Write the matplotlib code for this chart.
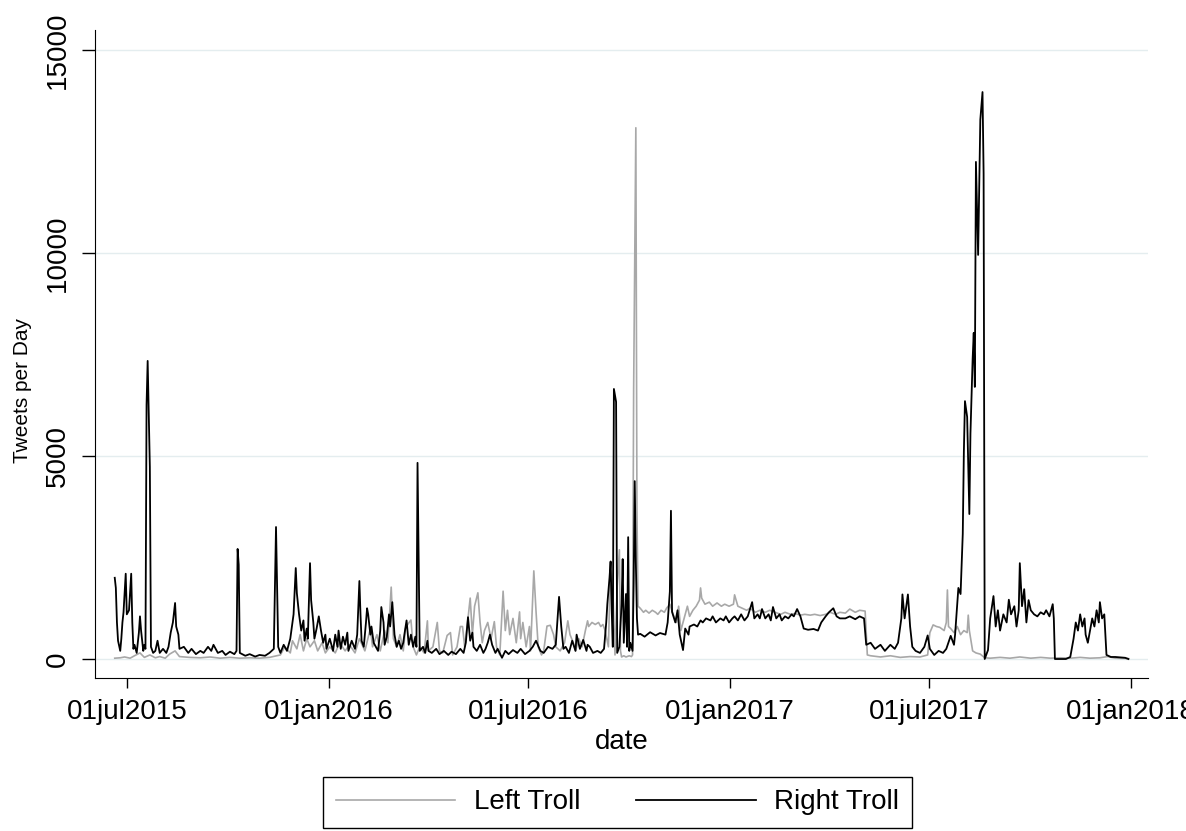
import matplotlib.pyplot as plt
import pandas as pd

# Right Troll, tweets per day
right_dates = [
    "2015-06-20", "2015-06-21", "2015-06-22", "2015-06-23", "2015-06-25", "2015-06-26", "2015-06-27", "2015-06-28", "2015-06-30",
    "2015-07-01", "2015-07-03", "2015-07-05", "2015-07-06", "2015-07-07", "2015-07-08", "2015-07-10", "2015-07-12", "2015-07-13",
    "2015-07-14", "2015-07-16", "2015-07-17", "2015-07-18", "2015-07-19", "2015-07-20", "2015-07-22", "2015-07-23", "2015-07-25",
    "2015-07-27", "2015-07-29", "2015-07-31",
    "2015-08-03", "2015-08-06", "2015-08-08", "2015-08-10", "2015-08-12", "2015-08-14", "2015-08-15", "2015-08-17", "2015-08-18",
    "2015-08-22", "2015-08-26", "2015-08-29",
    "2015-09-02", "2015-09-06", "2015-09-09", "2015-09-13", "2015-09-16", "2015-09-18", "2015-09-22", "2015-09-26", "2015-09-29",
    "2015-10-03", "2015-10-07", "2015-10-09", "2015-10-10", "2015-10-11", "2015-10-12", "2015-10-17", "2015-10-21", "2015-10-26",
    "2015-10-30",
    "2015-11-04", "2015-11-08", "2015-11-12", "2015-11-14", "2015-11-15", "2015-11-16", "2015-11-18", "2015-11-21", "2015-11-24",
    "2015-11-27", "2015-11-28", "2015-11-30",
    "2015-12-02", "2015-12-03", "2015-12-05", "2015-12-07", "2015-12-09", "2015-12-10", "2015-12-12", "2015-12-13", "2015-12-15",
    "2015-12-16", "2015-12-18", "2015-12-19", "2015-12-21", "2015-12-23", "2015-12-25", "2015-12-27", "2015-12-29", "2015-12-30",
    "2016-01-02", "2016-01-05", "2016-01-07", "2016-01-09", "2016-01-10", "2016-01-12", "2016-01-14", "2016-01-16", "2016-01-18",
    "2016-01-19", "2016-01-22", "2016-01-25", "2016-01-27", "2016-01-29", "2016-01-30", "2016-01-31",
    "2016-02-02", "2016-02-04", "2016-02-05", "2016-02-06", "2016-02-08", "2016-02-09", "2016-02-11", "2016-02-13", "2016-02-15",
    "2016-02-17", "2016-02-18", "2016-02-20", "2016-02-21", "2016-02-23", "2016-02-25", "2016-02-26", "2016-02-28", "2016-02-29",
    "2016-03-01", "2016-03-03", "2016-03-05", "2016-03-07", "2016-03-09", "2016-03-10", "2016-03-12", "2016-03-14", "2016-03-16",
    "2016-03-18", "2016-03-20", "2016-03-21", "2016-03-22", "2016-03-23", "2016-03-24", "2016-03-27", "2016-03-29", "2016-03-31",
    "2016-04-01", "2016-04-04", "2016-04-08", "2016-04-11", "2016-04-15", "2016-04-19", "2016-04-22", "2016-04-26", "2016-04-30",
    "2016-05-03", "2016-05-05", "2016-05-07", "2016-05-09", "2016-05-11", "2016-05-12", "2016-05-15", "2016-05-18", "2016-05-21",
    "2016-05-23", "2016-05-25", "2016-05-27", "2016-05-29",
    "2016-06-01", "2016-06-03", "2016-06-07", "2016-06-10", "2016-06-13", "2016-06-17", "2016-06-21", "2016-06-24", "2016-06-28",
    "2016-07-02", "2016-07-05", "2016-07-08", "2016-07-12", "2016-07-15", "2016-07-19", "2016-07-23", "2016-07-26", "2016-07-29",
    "2016-07-31",
    "2016-08-02", "2016-08-04", "2016-08-07", "2016-08-10", "2016-08-13", "2016-08-14", "2016-08-17", "2016-08-20", "2016-08-23",
    "2016-08-24", "2016-08-26", "2016-08-29",
    "2016-09-02", "2016-09-05", "2016-09-08", "2016-09-10", "2016-09-11", "2016-09-13", "2016-09-14", "2016-09-15", "2016-09-16",
    "2016-09-17", "2016-09-19", "2016-09-20", "2016-09-22", "2016-09-24", "2016-09-25", "2016-09-26", "2016-09-28", "2016-09-29",
    "2016-09-30",
    "2016-10-01", "2016-10-02", "2016-10-04", "2016-10-05", "2016-10-06", "2016-10-07", "2016-10-08", "2016-10-09", "2016-10-11",
    "2016-10-15", "2016-10-20", "2016-10-25", "2016-10-29",
    "2016-11-03", "2016-11-05", "2016-11-07", "2016-11-08", "2016-11-09", "2016-11-12", "2016-11-14", "2016-11-16", "2016-11-19",
    "2016-11-21", "2016-11-24", "2016-11-25", "2016-11-29",
    "2016-12-02", "2016-12-05", "2016-12-07", "2016-12-10", "2016-12-14", "2016-12-16", "2016-12-19", "2016-12-23", "2016-12-26",
    "2016-12-28", "2016-12-31",
    "2017-01-03", "2017-01-05", "2017-01-08", "2017-01-11", "2017-01-14", "2017-01-17", "2017-01-21", "2017-01-23", "2017-01-26",
    "2017-01-28", "2017-01-30",
    "2017-02-02", "2017-02-05", "2017-02-07", "2017-02-09", "2017-02-12", "2017-02-15", "2017-02-17", "2017-02-20", "2017-02-23",
    "2017-02-26", "2017-02-28",
    "2017-03-03", "2017-03-06", "2017-03-09", "2017-03-13", "2017-03-18", "2017-03-22", "2017-03-25", "2017-03-29",
    "2017-04-01", "2017-04-05", "2017-04-08", "2017-04-11", "2017-04-16", "2017-04-20", "2017-04-25", "2017-04-29",
    "2017-05-03", "2017-05-05", "2017-05-09", "2017-05-13", "2017-05-18", "2017-05-22", "2017-05-27", "2017-05-31",
    "2017-06-03", "2017-06-06", "2017-06-07", "2017-06-09", "2017-06-12", "2017-06-14", "2017-06-16", "2017-06-19", "2017-06-23",
    "2017-06-27", "2017-06-30",
    "2017-07-02", "2017-07-06", "2017-07-10", "2017-07-14", "2017-07-17", "2017-07-21", "2017-07-24", "2017-07-25", "2017-07-28",
    "2017-07-30",
    "2017-08-01", "2017-08-02", "2017-08-03", "2017-08-05", "2017-08-07", "2017-08-08", "2017-08-10", "2017-08-11", "2017-08-12",
    "2017-08-13", "2017-08-15", "2017-08-17", "2017-08-19", "2017-08-20", "2017-08-21", "2017-08-24", "2017-08-26", "2017-08-29",
    "2017-08-31",
    "2017-09-02", "2017-09-04", "2017-09-07", "2017-09-10", "2017-09-12", "2017-09-14", "2017-09-17", "2017-09-19", "2017-09-21",
    "2017-09-22", "2017-09-24", "2017-09-26", "2017-09-28", "2017-09-30",
    "2017-10-02", "2017-10-05", "2017-10-08", "2017-10-11", "2017-10-14", "2017-10-16", "2017-10-19", "2017-10-22", "2017-10-23",
    "2017-10-24", "2017-10-29",
    "2017-11-03", "2017-11-07", "2017-11-10", "2017-11-12", "2017-11-14", "2017-11-16", "2017-11-18", "2017-11-20", "2017-11-21",
    "2017-11-23", "2017-11-25", "2017-11-27", "2017-11-29",
    "2017-12-01", "2017-12-03", "2017-12-04", "2017-12-06", "2017-12-08", "2017-12-10", "2017-12-14", "2017-12-18", "2017-12-23",
    "2017-12-27", "2017-12-30",
]
right_tweets = [
    2000, 1750, 900, 450, 200, 500, 900, 1150, 2100,
    1100, 1200, 2100, 900, 250, 350, 150, 650, 1050,
    700, 200, 350, 250, 6260, 7340, 4730, 300, 150,
    200, 450, 150,
    250, 150, 300, 650, 900, 1380, 800, 600, 250,
    300, 150, 250,
    120, 200, 150, 300, 200, 350, 150, 200, 100,
    180, 120, 200, 2710, 2320, 150, 80, 120, 60,
    100,
    80, 150, 250, 3250, 1820, 300, 150, 350, 200,
    500, 700, 1100,
    2240, 1620, 1100, 700, 950, 450, 750, 500, 2360,
    1450, 900, 500, 750, 1050, 700, 400, 600, 250,
    500, 200, 600, 300, 700, 250, 550, 350, 650,
    200, 450, 250, 600, 1920, 1100, 450,
    300, 900, 1250, 1100, 600, 800, 400, 300, 200,
    700, 1280, 900, 350, 550, 1100, 800, 1400, 1000,
    600, 300, 450, 250, 400, 600, 950, 350, 600,
    300, 550, 300, 4830, 2610, 200, 300, 150, 450,
    200, 150, 250, 120, 200, 100, 180, 120, 250,
    150, 400, 1030, 450, 650, 300, 200, 350, 150,
    250, 400, 600, 350,
    150, 250, 30, 200, 120, 220, 150, 250, 120,
    200, 300, 450, 200, 150, 300, 250, 350, 1530,
    800,
    250, 300, 150, 450, 200, 600, 250, 470, 200,
    350, 300, 150,
    200, 150, 250, 900, 1350, 2000, 2400, 1200, 300,
    6650, 6330, 150, 300, 1350, 2460, 400, 1600, 300,
    3000,
    200, 400, 200, 1850, 4380, 2370, 1000, 600, 620,
    550, 660, 580, 640,
    600, 900, 1660, 3650, 1160, 900, 1200, 600, 220,
    750, 600, 800, 850,
    800, 950, 900, 1000, 950, 1050, 900, 1000, 950,
    1050, 900,
    1000, 1050, 950, 1100, 950, 1050, 1400, 1000, 1100,
    1000, 1230,
    1000, 1100, 950, 1280, 1000, 1100, 950, 1050, 1000,
    1100, 1050,
    1230, 1050, 750, 720, 740, 700, 900, 1050,
    1150, 1250, 1050, 1000, 1000, 1050, 980, 1050,
    1000, 350, 400, 250, 350, 200, 350, 250,
    400, 1000, 1590, 1000, 1590, 800, 300, 200, 150,
    300, 580,
    250, 100, 200, 150, 250, 570, 350, 600, 1750,
    1600,
    3080, 5100, 6350, 5960, 3570, 5550, 7390, 8030, 6700,
    12240, 9950, 13280, 13960, 11950, 0, 220, 1000, 1550,
    800,
    1200, 700, 1100, 900, 1460, 1100, 1300, 800, 1200,
    2360, 1300, 1720, 900, 1450,
    1200, 1100, 1050, 1150, 1100, 1200, 1050, 1350, 1000,
    0, 0,
    0, 50, 500, 900, 700, 1100, 800, 1000, 600,
    400, 700, 1000, 800,
    1200, 900, 1400, 1000, 1100, 100, 50, 50, 40,
    30, 0,
]

# Left Troll, tweets per day
left_dates = [
    "2015-06-20", "2015-06-25", "2015-06-29", "2015-07-04", "2015-07-08", "2015-07-13", "2015-07-17", "2015-07-22", "2015-07-27",
    "2015-07-31", "2015-08-05", "2015-08-09", "2015-08-14", "2015-08-18", "2015-08-27", "2015-09-06", "2015-09-15", "2015-09-24",
    "2015-10-03", "2015-10-12", "2015-10-21", "2015-10-30", "2015-11-08", "2015-11-18", "2015-11-22", "2015-11-27", "2015-11-29",
    "2015-12-03", "2015-12-06", "2015-12-09", "2015-12-12", "2015-12-15", "2015-12-19", "2015-12-22", "2015-12-26", "2015-12-29",
    "2016-01-02", "2016-01-07", "2016-01-11", "2016-01-16", "2016-01-20", "2016-01-25", "2016-01-29",
    "2016-02-03", "2016-02-08", "2016-02-10", "2016-02-14", "2016-02-17", "2016-02-21", "2016-02-24", "2016-02-27", "2016-02-29",
    "2016-03-03", "2016-03-06", "2016-03-09", "2016-03-11", "2016-03-13", "2016-03-16", "2016-03-18", "2016-03-21", "2016-03-24",
    "2016-03-28", "2016-03-31",
    "2016-04-01", "2016-04-05", "2016-04-09", "2016-04-11", "2016-04-14", "2016-04-18", "2016-04-21", "2016-04-23", "2016-04-27",
    "2016-04-30",
    "2016-05-02", "2016-05-04", "2016-05-07", "2016-05-09", "2016-05-11", "2016-05-13", "2016-05-16", "2016-05-18", "2016-05-20",
    "2016-05-22", "2016-05-25", "2016-05-28", "2016-05-31",
    "2016-06-02", "2016-06-05", "2016-06-08", "2016-06-10", "2016-06-12", "2016-06-14", "2016-06-17", "2016-06-20", "2016-06-23",
    "2016-06-24", "2016-06-26", "2016-06-29",
    "2016-07-02", "2016-07-03", "2016-07-06", "2016-07-08", "2016-07-10", "2016-07-13", "2016-07-15", "2016-07-18", "2016-07-21",
    "2016-07-24", "2016-07-26", "2016-07-30",
    "2016-08-03", "2016-08-06", "2016-08-08", "2016-08-11", "2016-08-13", "2016-08-16", "2016-08-19", "2016-08-22", "2016-08-24",
    "2016-08-25", "2016-08-28", "2016-08-31",
    "2016-09-03", "2016-09-05", "2016-09-07", "2016-09-09", "2016-09-12", "2016-09-14", "2016-09-16", "2016-09-18", "2016-09-20",
    "2016-09-22", "2016-09-23", "2016-09-24", "2016-09-26", "2016-09-28",
    "2016-10-01", "2016-10-03", "2016-10-04", "2016-10-05", "2016-10-07", "2016-10-08", "2016-10-09", "2016-10-11", "2016-10-14",
    "2016-10-16", "2016-10-19", "2016-10-22", "2016-10-25", "2016-10-27", "2016-10-30",
    "2016-11-02", "2016-11-04", "2016-11-07", "2016-11-10", "2016-11-13", "2016-11-15", "2016-11-17", "2016-11-20", "2016-11-23",
    "2016-11-25", "2016-11-28",
    "2016-12-01", "2016-12-04", "2016-12-05", "2016-12-06", "2016-12-09", "2016-12-13", "2016-12-16", "2016-12-20", "2016-12-24",
    "2016-12-27", "2016-12-31",
    "2017-01-04", "2017-01-05", "2017-01-08", "2017-01-12", "2017-01-16", "2017-01-19", "2017-01-24", "2017-01-28",
    "2017-02-02", "2017-02-06", "2017-02-11", "2017-02-16", "2017-02-20", "2017-02-25",
    "2017-03-01", "2017-03-06", "2017-03-10", "2017-03-15", "2017-03-19", "2017-03-24", "2017-03-29",
    "2017-04-02", "2017-04-07", "2017-04-11", "2017-04-16", "2017-04-20", "2017-04-25", "2017-04-29",
    "2017-05-04", "2017-05-06", "2017-05-09", "2017-05-18", "2017-05-27",
    "2017-06-05", "2017-06-14", "2017-06-23", "2017-06-30",
    "2017-07-02", "2017-07-05", "2017-07-08", "2017-07-11", "2017-07-15", "2017-07-17", "2017-07-18", "2017-07-19", "2017-07-21",
    "2017-07-24", "2017-07-27", "2017-07-30",
    "2017-08-02", "2017-08-05", "2017-08-06", "2017-08-07", "2017-08-10", "2017-08-13", "2017-08-17", "2017-08-21", "2017-08-26",
    "2017-09-04", "2017-09-13", "2017-09-22", "2017-10-02", "2017-10-11", "2017-10-20", "2017-10-29", "2017-11-07", "2017-11-16",
    "2017-11-25", "2017-12-04", "2017-12-11", "2017-12-18", "2017-12-30",
]
left_tweets = [
    20, 30, 50, 20, 80, 150, 40, 100, 30,
    60, 20, 120, 200, 60, 40, 30, 50, 20,
    40, 20, 30, 20, 40, 100, 300, 150, 450,
    250, 600, 200, 500, 300, 450, 200, 400, 150,
    300, 150, 400, 200, 350, 150, 500,
    200, 750, 300, 600, 200, 700, 400, 1770, 500,
    300, 600, 200, 750, 850, 960, 300, 100, 300,
    150, 940,
    200, 300, 900, 200, 150, 580, 650, 100, 300,
    800,
    800, 300, 1000, 1500, 600, 1300, 1630, 900, 400,
    700, 900, 500, 920,
    300, 100, 1670, 700, 1200, 600, 1000, 400, 1160,
    500, 900, 300,
    800, 200, 2170, 1180, 300, 100, 200, 810, 830,
    600, 300, 200,
    400, 940, 600, 400, 200, 500, 300, 700, 940,
    800, 900, 850,
    900, 800, 850, 700, 300, 2400, 1700, 100, 1800,
    2690, 200, 50, 80, 50,
    80, 60, 100, 6650, 13080, 3650, 1300, 1250, 1150,
    1200, 1130, 1200, 1150, 1100, 1200,
    1150, 1250, 1350, 1100, 900, 1300, 700, 1000, 1300,
    1050, 1200,
    1300, 1450, 1750, 1500, 1350, 1400, 1300, 1380, 1300,
    1350, 1300,
    1350, 1580, 1300, 1250, 1200, 1250, 1150, 1200,
    1150, 1200, 1150, 1100, 1150, 1100,
    1120, 1080, 1100, 1080, 1100, 1070, 1100,
    1150, 1100, 1150, 1130, 1230, 1150, 1200,
    1180, 100, 80, 50, 80,
    40, 60, 50, 100,
    650, 840, 800, 780, 700, 900, 1700, 800, 750,
    650, 800, 600,
    700, 650, 1080, 700, 200, 150, 120, 30, 20,
    40, 20, 50, 20, 40, 20, 30, 20, 40,
    20, 30, 60, 20, 10,
]

tick_dates = ["2015-07-01", "2016-01-01", "2016-07-01", "2017-01-01", "2017-07-01", "2018-01-01"]
tick_labels = ["01jul2015", "01jan2016", "01jul2016", "01jan2017", "01jul2017", "01jan2018"]

plt.rcParams["font.family"] = ["Liberation Sans", "DejaVu Sans"]

fig = plt.figure(figsize=(11.86, 8.31), dpi=100)
ax = fig.add_axes([0.0801, 0.184, 0.888, 0.78])

ax.plot(pd.to_datetime(left_dates), left_tweets, color="#a8a8a8", lw=1.2, label="Left Troll")
ax.plot(pd.to_datetime(right_dates), right_tweets, color="black", lw=1.3, label="Right Troll")

ax.set_xlim(pd.Timestamp("2015-06-02"), pd.Timestamp("2018-01-17"))
ax.set_ylim(-470, 15490)
ax.set_xticks(pd.to_datetime(tick_dates))
ax.set_xticklabels(tick_labels)
ax.set_yticks([0, 5000, 10000, 15000])
ax.set_yticklabels(["0", "5000", "10000", "15000"], rotation=90, va="center")
ax.tick_params(axis="x", length=7.2, width=1, labelsize=20, pad=8)
ax.tick_params(axis="y", length=9.4, width=1, labelsize=20, pad=8)

ax.grid(axis="y", color="#e4edef", lw=1)
ax.set_axisbelow(True)
for side in ["top", "right"]:
    ax.spines[side].set_visible(False)

ax.set_xlabel("date", fontsize=20, labelpad=3)
ax.set_ylabel("Tweets per Day", fontsize=15)
ax.yaxis.set_label_coords(-0.06, 0.444)

fig.legend(loc="upper center", bbox_to_anchor=(0.5207, 0.065), ncol=2, fontsize=20,
           frameon=True, fancybox=False, edgecolor="black", framealpha=1,
           handlelength=4.3, handletextpad=0.68, columnspacing=2.0, borderpad=0.45,
           borderaxespad=0)

fig.savefig("out.png", dpi=100)
